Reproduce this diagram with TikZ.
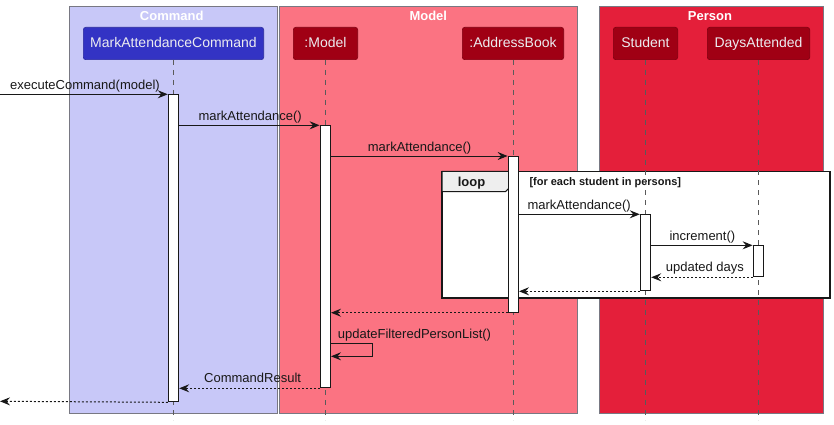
\documentclass[tikz,border=0pt]{standalone}
\usepackage{fontspec}
\setmainfont{Liberation Sans}
\usetikzlibrary{arrows.meta}
\definecolor{cmdbg}{RGB}{200,200,248}
\definecolor{modbg}{RGB}{251,115,130}
\definecolor{perbg}{RGB}{228,31,58}
\definecolor{blueP}{RGB}{51,51,196}
\definecolor{redP}{RGB}{160,0,20}
\definecolor{grpline}{RGB}{120,120,130}
\definecolor{lifegray}{RGB}{90,90,90}
\definecolor{tabgray}{RGB}{238,238,238}
\definecolor{ink}{RGB}{24,24,24}
\definecolor{parttext}{RGB}{236,236,240}
\begin{document}
\begin{tikzpicture}[x=1pt,y=-1pt,
  grp/.style={draw=grpline, line width=0.8pt},
  grptitle/.style={text=white, font=\fontsize{13}{15}\selectfont\bfseries, anchor=base, inner sep=0pt},
  part/.style={rounded corners=2.5pt, draw=#1!80!black, fill=#1, line width=0.6pt,
    text=parttext, font=\fontsize{14}{16}\selectfont, minimum height=32.4pt,
    text height=10.5pt, text depth=2pt, inner sep=0pt},
  life/.style={draw=lifegray, line width=0.8pt, dash pattern=on 5pt off 5pt},
  act/.style={draw=ink, fill=white, line width=1pt, minimum width=10.4pt, inner sep=0pt, anchor=north},
  msg/.style={draw=ink, line width=1pt, -{Stealth[length=10pt,width=8pt,inset=3.5pt]}},
  ret/.style={msg, dash pattern=on 2pt off 2pt},
  lbl/.style={font=\fontsize{13}{15}\selectfont, text=ink, anchor=base west, inner sep=0pt},
  guard/.style={font=\fontsize{11}{13}\selectfont\bfseries, text=ink, anchor=base west, inner sep=0pt}
]
\useasboundingbox (0,0) rectangle (834,425);
\fill[white] (0,0) rectangle (834,425);

% groups
\draw[grp, fill=cmdbg] (69.3,6) rectangle (277.7,413.3);
\draw[grp, fill=modbg] (279,6) rectangle (577.7,413.3);
\draw[grp, fill=perbg] (599.3,6) rectangle (823.3,413.3);
\node[grptitle] (tCmd) at (171.7,20.5) {Command};
\node[grptitle] (tMod) at (428.3,20.5) {Model};
\node[grptitle] (tPer) at (710,20.5) {Person};

% participants
\node[part=blueP, minimum width=180.4pt] (pMAC) at (173.5,43.5) {MarkAttendanceCommand};
\node[part=redP, minimum width=64.4pt] (pMod) at (325.5,43.5) {:Model};
\node[part=redP, minimum width=101.4pt] (pAB) at (513,43.5) {:AddressBook};
\node[part=redP, minimum width=64.4pt] (pSt) at (645.5,43.5) {Student};
\node[part=redP, minimum width=102.4pt] (pDA) at (758.5,43.5) {DaysAttended};

% loop frame
\draw[draw=ink, line width=1.6pt, fill=white] (442,171.3) rectangle (829.7,298);
\draw[draw=ink, line width=1pt, fill=tabgray] (442,171.3) -- (515,171.3) -- (515,181.5) -- (505.5,191.7) -- (442,191.7) -- cycle;
\node[font=\fontsize{13}{15}\selectfont\bfseries, text=ink, anchor=base, inner sep=0pt] (tLoop) at (471.5,186.7) {loop};
\node[guard] (tGuard) at (529.3,185.7) {[for each student in persons]};

% lifelines
\coordinate (eMAC) at (173.5,420);
\coordinate (eMod) at (325.5,420);
\coordinate (eAB) at (513,420);
\coordinate (eSt) at (645.5,420);
\coordinate (eDA) at (758.5,420);
\draw[life] (pMAC.south) -- (eMAC);
\draw[life] (pMod.south) -- (eMod);
\draw[life] (pAB.south) -- (eAB);
\draw[life] (pSt.south) -- (eSt);
\draw[life] (pDA.south) -- (eDA);

% activations
\node[act, minimum height=307pt] (aMAC) at (173.5,94.3) {};
\node[act, minimum height=262pt] (aMod) at (325.3,125.3) {};
\node[act, minimum height=155.7pt] (aAB) at (513.3,156) {};
\node[act, minimum height=76pt] (aSt) at (645.5,214.3) {};
\node[act, minimum height=31pt] (aDA) at (758.3,245.3) {};

% messages
\coordinate (inStart) at (0,94.3);
\coordinate (outEnd) at (0,401.3);
\draw[msg] (inStart) -- (aMAC.north west);
\node[lbl] (l1) at (10,89.3) {executeCommand(model)};

\draw[msg] (aMAC.east |- aMod.north west) -- (aMod.north west);
\node[lbl] (l2) at (198.3,120.3) {markAttendance()};

\draw[msg] (aMod.east |- aAB.north west) -- (aAB.north west);
\node[lbl] (l3) at (367.7,151) {markAttendance()};

\draw[msg] (aAB.east |- aSt.north west) -- (aSt.north west);
\node[lbl] (l4) at (527.3,209.3) {markAttendance()};

\draw[msg] (aSt.east |- aDA.north west) -- (aDA.north west);
\node[lbl] (l5) at (669.3,240.3) {increment()};

\draw[ret] (aDA.south west) -- (aSt.east |- aDA.south west);
\node[lbl] (l6) at (665.7,271.3) {updated days};

\draw[ret] (aSt.south west) -- (aAB.east |- aSt.south west);

\draw[ret] (aAB.south west) -- (aMod.east |- aAB.south west);

\coordinate (selfA) at (372.3,343.3);
\coordinate (selfB) at (372.3,356.3);
\draw[msg] (aMod.east |- selfA) -- (selfA) -- (selfB) -- (aMod.east |- selfB);
\node[lbl] (l7) at (337.7,338.3) {updateFilteredPersonList()};

\draw[ret] (aMod.south west) -- (aMAC.east |- aMod.south west);
\node[lbl] (l8) at (204,382.3) {CommandResult};

\draw[ret] (aMAC.south west) -- (outEnd);
\end{tikzpicture}
\end{document}
